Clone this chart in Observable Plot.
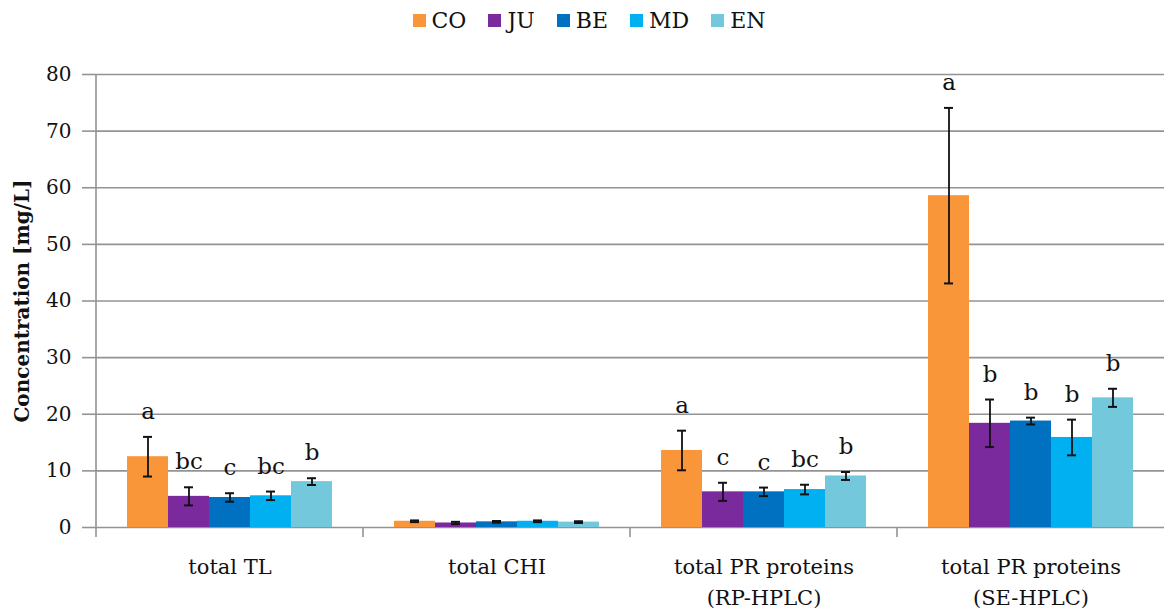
<!DOCTYPE html>
<html>
<head>
<meta charset="utf-8">
<script src="https://cdn.jsdelivr.net/npm/d3@7"></script>
<script src="https://cdn.jsdelivr.net/npm/@observablehq/plot@0.6"></script>
<style>
  html, body { margin: 0; padding: 0; background: #fff; }
  body { width: 1164px; height: 614px; overflow: hidden; font-family: "DejaVu Serif", serif; }
  #legend { height: 40px; display: flex; justify-content: center; align-items: center; gap: 22px; font-size: 22px; color: #111; padding-left: 14px; box-sizing: border-box; }
  #legend .item { display: flex; align-items: center; gap: 6px; }
  #legend .sw { width: 13px; height: 13px; display: inline-block; }
  #chart svg text { font-family: "DejaVu Serif", serif; }
</style>
</head>
<body>
<div id="legend"></div>
<div id="chart"></div>
<script>
const categories = ["total TL", "total CHI", "total PR proteins\n(RP-HPLC)", "total PR proteins\n(SE-HPLC)"];
const series = ["CO", "JU", "BE", "MD", "EN"];
const colors = ["#F9963A", "#7B2A9E", "#0070C0", "#00B0F0", "#73C8DC"];
// mean values per category, order of series
const meanTL  = [12.5, 5.5, 5.3, 5.6, 8.1];
const meanCHI = [1.1, 0.8, 1.0, 1.1, 0.95];
const meanRP  = [13.6, 6.3, 6.3, 6.7, 9.1];
const meanSE  = [58.6, 18.4, 18.8, 15.9, 22.9];
// standard deviations
const sdTL  = [3.5, 1.6, 0.75, 0.75, 0.6];
const sdCHI = [0.15, 0.2, 0.15, 0.15, 0.15];
const sdRP  = [3.5, 1.6, 0.75, 0.85, 0.7];
const sdSE  = [15.5, 4.2, 0.6, 3.15, 1.6];
// significance letters
const lettersTL  = ["a", "bc", "c", "bc", "b"];
const lettersCHI = ["", "", "", "", ""];
const lettersRP  = ["a", "c", "c", "bc", "b"];
const lettersSE  = ["a", "b", "b", "b", "b"];
const yTicks = [0, 10, 20, 30, 40, 50, 60, 70, 80];

const means = [meanTL, meanCHI, meanRP, meanSE];
const sds = [sdTL, sdCHI, sdRP, sdSE];
const letters = [lettersTL, lettersCHI, lettersRP, lettersSE];

const data = [];
categories.forEach((c, i) => series.forEach((s, j) => {
  data.push({category: c, series: s, mean: means[i][j], sd: sds[i][j], letter: letters[i][j]});
}));

// legend
const lg = document.getElementById("legend");
series.forEach((s, j) => {
  const it = document.createElement("span");
  it.className = "item";
  it.innerHTML = `<span class="sw" style="background:${colors[j]}"></span><span>${s}</span>`;
  lg.appendChild(it);
});

const grid = "#939393";
const plot = Plot.plot({
  width: 1164,
  height: 574,
  marginTop: 34,
  marginBottom: 87,
  marginLeft: 96,
  marginRight: 0,
  style: {fontFamily: "'DejaVu Serif', serif", fontSize: "20px", color: "#111", background: "#fff"},
  fx: {domain: categories, padding: 0, label: null},
  x: {domain: series, paddingInner: 0, paddingOuter: 0.74, axis: null},
  y: {domain: [0, 80], ticks: yTicks},
  color: {domain: series, range: colors},
  marks: [
    Plot.gridY(yTicks, {stroke: grid, strokeOpacity: 1, strokeWidth: 1.6}),
    Plot.barY(data, {fx: "category", x: "series", y: "mean", fill: "series"}),
    Plot.ruleX(data, {fx: "category", x: "series", y1: d => d.mean - d.sd, y2: d => d.mean + d.sd, stroke: "#111", strokeWidth: 1.8}),
    Plot.tickY(data, {fx: "category", x: "series", y: d => d.mean + d.sd, stroke: "#111", strokeWidth: 2, insetLeft: 16, insetRight: 16}),
    Plot.tickY(data, {fx: "category", x: "series", y: d => d.mean - d.sd, stroke: "#111", strokeWidth: 2, insetLeft: 16, insetRight: 16}),
    Plot.text(data, {fx: "category", x: "series", y: d => d.mean + d.sd, text: "letter", dy: -18, lineAnchor: "bottom", fontSize: 23, fill: "#111"}),
    Plot.axisY(yTicks, {tickSize: 14, tickPadding: 11, stroke: grid, strokeWidth: 1.6, fontSize: 20, label: null}),
    Plot.axisY([], {label: "Concentration [mg/L]", labelAnchor: "center", labelArrow: "none", labelOffset: 82, fontSize: 20, fontWeight: "bold"}),
    Plot.axisFx({anchor: "bottom", tickSize: 0, tickPadding: 24, fontSize: 21, lineHeight: 1.5, label: null})
  ]
});
document.getElementById("chart").appendChild(plot);

// structural lines drawn from the library's scales
const svg = d3.select(plot);
const fx = plot.scale("fx"), y = plot.scale("y");
const y0 = y.apply(0), yTop = y.apply(80);
const g = svg.append("g").attr("stroke", grid).attr("stroke-width", 1.6);
const left = fx.apply(categories[0]);
g.append("line").attr("x1", left).attr("x2", left).attr("y1", yTop).attr("y2", y0);
categories.forEach(c => {
  const xx = fx.apply(c);
  g.append("line").attr("x1", xx).attr("x2", xx).attr("y1", y0).attr("y2", y0 + 10);
});
</script>
</body>
</html>
